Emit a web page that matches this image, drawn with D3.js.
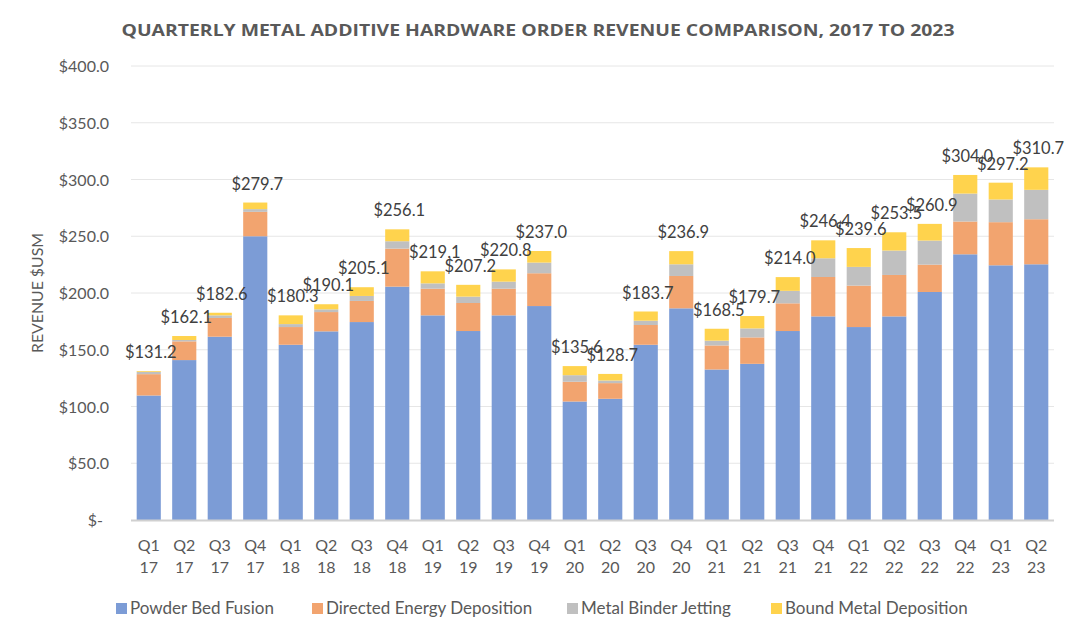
<!DOCTYPE html>
<html>
<head>
<meta charset="utf-8">
<script src="https://cdn.jsdelivr.net/npm/d3@7"></script>
<style>
  html, body { margin: 0; padding: 0; background: #ffffff; }
  svg { display: block; }
</style>
</head>
<body>
<svg id="chart" width="1080" height="640"></svg>
<script>
const quarters = ["Q1","Q2","Q3","Q4","Q1","Q2","Q3","Q4","Q1","Q2","Q3","Q4","Q1","Q2","Q3","Q4","Q1","Q2","Q3","Q4","Q1","Q2","Q3","Q4","Q1","Q2"];
const years = ["17","17","17","17","18","18","18","18","19","19","19","19","20","20","20","20","21","21","21","21","22","22","22","22","23","23"];
const categories = quarters.map((q, i) => q + " " + years[i]);

const powderBedFusion = [109.7,140.9,161.5,250.0,154.4,166.2,174.4,205.6,180.3,166.5,180.3,188.5,104.4,106.8,154.4,186.5,132.6,137.6,166.5,179.4,170.0,179.4,200.9,234.1,224.4,225.3];
const directedEnergyDeposition = [18.8,16.5,16.5,21.5,15.6,17.0,18.6,33.5,23.5,24.7,23.5,28.9,17.4,13.8,17.4,28.5,21.2,23.3,24.4,34.7,36.5,36.5,24.1,28.9,38.0,39.7];
const metalBinderJetting = [2.0,1.2,2.3,2.4,2.6,2.4,4.4,6.5,4.7,5.6,6.2,9.4,5.8,2.3,3.8,10.3,4.2,7.9,11.0,16.5,16.5,21.5,21.2,24.6,20.0,25.9];
const boundMetalDeposition = [0.7,3.5,2.3,5.8,7.7,4.5,7.7,10.5,10.6,10.4,10.8,10.2,8.0,5.8,8.1,11.6,10.5,10.9,12.1,15.8,16.6,16.1,14.7,16.4,14.8,19.8];
const totals = [131.2,162.1,182.6,279.7,180.3,190.1,205.1,256.1,219.1,207.2,220.8,237.0,135.6,128.7,183.7,236.9,168.5,179.7,214.0,246.4,239.6,253.5,260.9,304.0,297.2,310.7];

const seriesNames = ["Powder Bed Fusion","Directed Energy Deposition","Metal Binder Jetting","Bound Metal Deposition"];
const seriesColors = ["#7C9CD6","#F2A46F","#C0C0C0","#FFD34D"];
const yTicks = [0,50,100,150,200,250,300,350,400];

const title = "QUARTERLY METAL ADDITIVE HARDWARE ORDER REVENUE COMPARISON, 2017 TO 2023";
const yTitle = "REVENUE $USM";

const svg = d3.select("#chart");
const fontFam = "Lato, 'Open Sans', sans-serif";
const textColor = "#595959";

const rows = categories.map((c, i) => ({
  cat: c,
  "Powder Bed Fusion": powderBedFusion[i],
  "Directed Energy Deposition": directedEnergyDeposition[i],
  "Metal Binder Jetting": metalBinderJetting[i],
  "Bound Metal Deposition": boundMetalDeposition[i],
  total: totals[i]
}));

const x = d3.scaleBand().domain(categories).range([131, 1054]).paddingInner(0.32).paddingOuter(0.16);
const y = d3.scaleLinear().domain([0, 400]).range([520, 66]);
const color = d3.scaleOrdinal().domain(seriesNames).range(seriesColors);

// gridlines
svg.append("g")
  .selectAll("line")
  .data(yTicks.filter(t => t > 0))
  .join("line")
  .attr("x1", 131).attr("x2", 1054)
  .attr("y1", d => y(d)).attr("y2", d => y(d))
  .attr("stroke", "#E6E6E6").attr("stroke-width", 1);

// y axis labels
const yAxis = d3.axisLeft(y).tickValues(yTicks)
  .tickFormat(d => d === 0 ? "$-" : "$" + d3.format(".1f")(d))
  .tickSize(0).tickPadding(0);
const yg = svg.append("g").attr("transform", "translate(109,0)").call(yAxis);
yg.select(".domain").remove();
yg.selectAll("text")
  .attr("font-family", fontFam).attr("font-size", 16).attr("fill", textColor)
  .attr("dy", "0.35em")
  .attr("x", d => d === 0 ? -6 : 0);

// stacked bars
const stack = d3.stack().keys(seriesNames);
const stacked = stack(rows);
svg.append("g")
  .selectAll("g")
  .data(stacked)
  .join("g")
  .attr("fill", d => color(d.key))
  .selectAll("rect")
  .data(d => d)
  .join("rect")
  .attr("x", d => x(d.data.cat))
  .attr("width", x.bandwidth())
  .attr("y", d => y(d[1]))
  .attr("height", d => y(d[0]) - y(d[1]));

// baseline
svg.append("line")
  .attr("x1", 131).attr("x2", 1054)
  .attr("y1", y(0) + 0.5).attr("y2", y(0) + 0.5)
  .attr("stroke", "#D0D0D0").attr("stroke-width", 2);

// total labels
svg.append("g")
  .selectAll("text")
  .data(rows)
  .join("text")
  .attr("x", d => x(d.cat) + x.bandwidth() / 2 + 2)
  .attr("y", d => y(d.total) - 13)
  .attr("text-anchor", "middle")
  .attr("font-family", fontFam).attr("font-size", 16.5).attr("fill", "#404040")
  .text(d => "$" + d3.format(".1f")(d.total));

// x axis labels
const xAxis = d3.axisBottom(x).tickSize(0).tickFormat(() => "");
const xg = svg.append("g").attr("transform", "translate(0,520)").call(xAxis);
xg.select(".domain").remove();
xg.selectAll(".tick").each(function(d, i) {
  const t = d3.select(this).append("text")
    .attr("text-anchor", "middle")
    .attr("font-family", fontFam).attr("font-size", 16).attr("fill", textColor);
  t.append("tspan").attr("x", 0).attr("y", 31).text(quarters[i]);
  t.append("tspan").attr("x", 0).attr("y", 53).text(years[i]);
});

// y title
svg.append("text")
  .attr("transform", "translate(43,293) rotate(-90)")
  .attr("text-anchor", "middle")
  .attr("font-family", fontFam).attr("font-size", 15).attr("fill", textColor)
  .attr("textLength", 120).attr("lengthAdjust", "spacingAndGlyphs")
  .text(yTitle);

// title
svg.append("text")
  .attr("x", 538).attr("y", 36)
  .attr("text-anchor", "middle")
  .attr("font-family", "'Open Sans', sans-serif").attr("font-weight", "bold")
  .attr("font-size", 16).attr("fill", textColor)
  .attr("textLength", 833).attr("lengthAdjust", "spacingAndGlyphs")
  .text(title);

// legend
const legendX = [116, 312, 567, 771];
const lg = svg.append("g").selectAll("g")
  .data(seriesNames)
  .join("g")
  .attr("transform", (d, i) => `translate(${legendX[i]},603)`);
lg.append("rect").attr("width", 11).attr("height", 11).attr("fill", d => color(d));
lg.append("text")
  .attr("x", 14).attr("y", 11)
  .attr("font-family", fontFam).attr("font-size", 17).attr("fill", textColor)
  .text(d => d);
</script>
</body>
</html>
